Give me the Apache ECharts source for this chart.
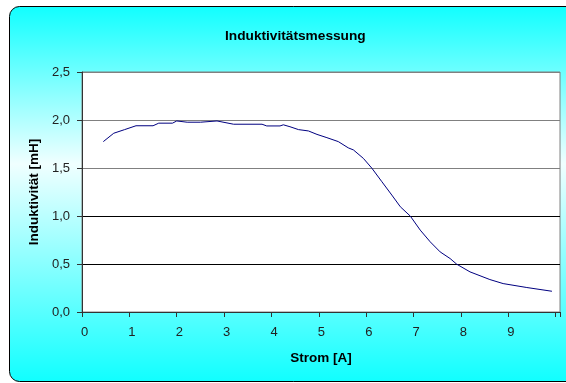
<!DOCTYPE html>
<html>
<head>
<meta charset="utf-8">
<script src="https://cdn.jsdelivr.net/npm/echarts@6/dist/echarts.min.js"></script>
<style>
  html, body { margin: 0; padding: 0; background: #fff; }
  #chart { width: 566px; height: 383px; }
</style>
</head>
<body>
<div id="chart"></div>
<script>
// Measured current [A] and inductance [mH]
const stromA = [0.45, 0.67, 0.9, 1.14, 1.5, 1.62, 1.91, 2.0, 2.22, 2.5, 2.53, 2.85, 3.2, 3.8, 3.9, 4.18, 4.25, 4.39, 4.57, 4.78, 4.96, 5.17, 5.41, 5.62, 5.73, 5.94, 6.12, 6.33, 6.54, 6.72, 6.93, 7.14, 7.35, 7.56, 7.77, 7.91, 8.19, 8.61, 8.89, 9.39, 9.92];
const induktivitaetMH = [1.775, 1.862, 1.9, 1.94, 1.94, 1.967, 1.967, 1.99, 1.977, 1.977, 1.99, 1.99, 1.956, 1.956, 1.938, 1.938, 1.95, 1.93, 1.9, 1.886, 1.85, 1.816, 1.775, 1.71, 1.688, 1.6, 1.497, 1.357, 1.218, 1.096, 0.999, 0.853, 0.731, 0.626, 0.557, 0.498, 0.418, 0.338, 0.296, 0.255, 0.216];
const xTicks = [0, 1, 2, 3, 4, 5, 6, 7, 8, 9];
const yTicks = ['0,0', '0,5', '1,0', '1,5', '2,0', '2,5'];

const points = stromA.map((x, i) => [x, induktivitaetMH[i]]);
const font = '"Liberation Sans", Arial, sans-serif';

const chart = echarts.init(document.getElementById('chart'), null, { renderer: 'canvas' });
chart.setOption({
  animation: false,
  backgroundColor: '#ffffff',
  graphic: [{
    type: 'rect',
    z: -10,
    silent: true,
    shape: { x: 9.5, y: 6.5, width: 570, height: 375, r: 10 },
    style: {
      fill: new echarts.graphic.LinearGradient(0, 0, 0, 1, [
        { offset: 0, color: '#10ffff' },
        { offset: 0.42, color: '#f0ffff' },
        { offset: 1, color: '#10ffff' }
      ]),
      stroke: '#000000',
      lineWidth: 1
    }
  }],
  title: {
    text: 'Induktivitätsmessung',
    left: 220,
    top: 24,
    textStyle: { fontFamily: font, fontSize: 13.7, fontWeight: 'bold', color: '#000' }
  },
  grid: {
    left: 82, right: 6, top: 72, bottom: 71,
    show: true,
    backgroundColor: '#ffffff',
    borderColor: '#808080',
    borderWidth: 1
  },
  xAxis: {
    type: 'value',
    min: 0,
    max: 10.09,
    interval: 1,
    name: 'Strom [A]',
    nameLocation: 'middle',
    nameGap: 39,
    nameTextStyle: { fontFamily: font, fontSize: 13.5, fontWeight: 'bold', color: '#000' },
    axisLine: { lineStyle: { color: '#333', width: 1 } },
    axisTick: { inside: false, length: 5, lineStyle: { color: '#333' } },
    axisLabel: {
      fontFamily: font, fontSize: 13, color: '#222', margin: 14,
      padding: [0, 0, 0, 5],
      formatter: v => (xTicks.indexOf(v) >= 0 ? String(v) : '')
    },
    splitLine: { show: false }
  },
  yAxis: {
    type: 'value',
    min: 0,
    max: 2.5,
    interval: 0.5,
    name: 'Induktivität [mH]',
    nameLocation: 'middle',
    nameRotate: 90,
    nameGap: 39,
    nameTextStyle: { fontFamily: font, fontSize: 13.5, fontWeight: 'bold', color: '#000' },
    axisLine: { show: true, lineStyle: { color: '#333', width: 1 } },
    axisTick: { show: true, inside: false, length: 5, lineStyle: { color: '#333' } },
    axisLabel: {
      fontFamily: font, fontSize: 13, color: '#222', margin: 12,
      formatter: v => yTicks[Math.round(v / 0.5)]
    },
    splitLine: {
      show: true,
      lineStyle: { color: ['#000000', '#000000', '#000000', '#808080', '#808080', '#808080'], width: 1 }
    }
  },
  series: [{
    type: 'line',
    data: points,
    showSymbol: false,
    smooth: false,
    lineStyle: { color: '#000080', width: 1 },
    itemStyle: { color: '#000080' }
  }]
});
</script>
</body>
</html>
